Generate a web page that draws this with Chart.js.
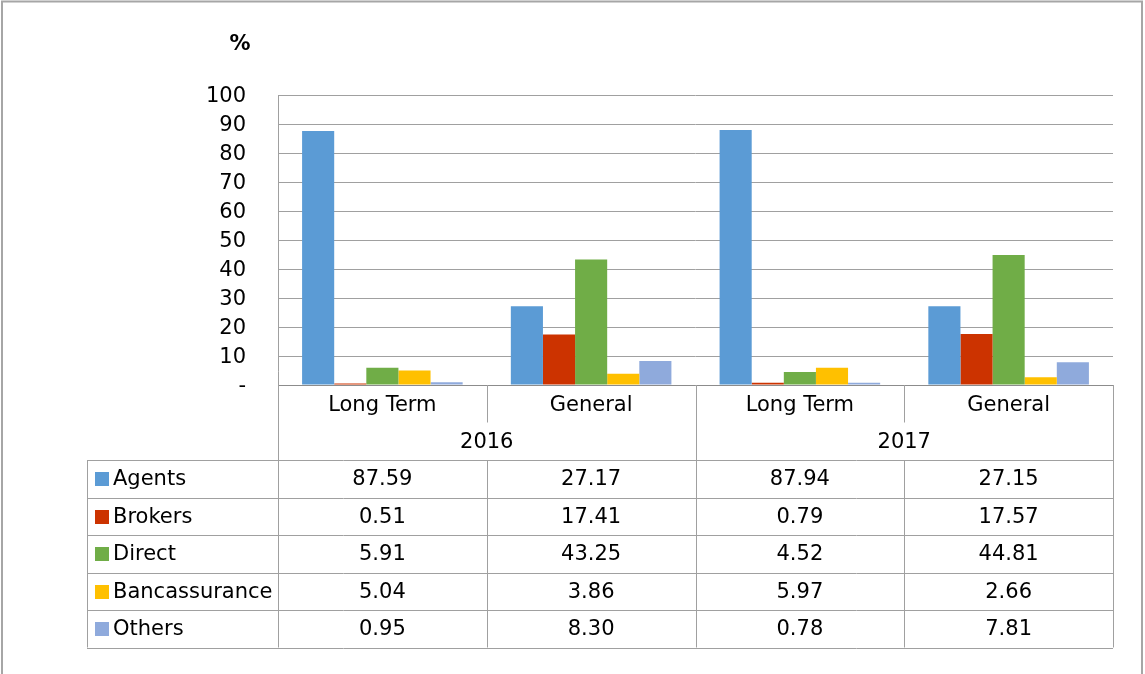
<!DOCTYPE html>
<html>
<head>
<meta charset="utf-8">
<script src="https://cdn.jsdelivr.net/npm/chart.js@4/dist/chart.umd.min.js"></script>
<style>
  html, body { margin: 0; padding: 0; background: #ffffff; }
  #wrap { width: 1145px; height: 674px; position: relative; }
</style>
</head>
<body>
<div id="wrap"><canvas id="c" width="1145" height="674"></canvas></div>
<script>
// ---- data ----
const categories = ['Long Term', 'General', 'Long Term', 'General'];
const years = ['2016', '2017'];
const seriesNames = ['Agents', 'Brokers', 'Direct', 'Bancassurance', 'Others'];
const agents = [87.59, 27.17, 87.94, 27.15];
const brokers = [0.51, 17.41, 0.79, 17.57];
const direct = [5.91, 43.25, 4.52, 44.81];
const bancassurance = [5.04, 3.86, 5.97, 2.66];
const others = [0.95, 8.30, 0.78, 7.81];
const yMin = 0, yMax = 100, yStep = 10;
const unitLabel = '%';

const colors = ['#5b9bd5', '#cc3300', '#70ad47', '#ffc000', '#8faadc'];
const seriesValues = [agents, brokers, direct, bancassurance, others];

const FONT = '"DejaVu Sans", Verdana, sans-serif';
const LINE = '#a0a0a0';

const tablePlugin = {
  id: 'dataTable',
  afterDraw(chart) {
    const ctx = chart.ctx;
    const x = chart.scales.x;
    const area = chart.chartArea;
    const left = area.left, right = area.right, bottom = area.bottom;
    const n = categories.length;
    const colW = (right - left) / n;
    const edges = [];
    for (let i = 0; i <= n; i++) edges.push(left + colW * i);
    const rowH = 37.5;
    const catRowTop = bottom, yearRowTop = bottom + rowH, dataTop = bottom + 2 * rowH;
    const legendLeft = 87;
    const tableBottom = dataTop + rowH * seriesNames.length;

    ctx.save();
    // outer frame
    ctx.strokeStyle = '#a6a6a6';
    ctx.lineWidth = 2;
    ctx.beginPath();
    ctx.moveTo(2, 680); ctx.lineTo(2, 1.5); ctx.lineTo(1142, 1.5); ctx.lineTo(1142, 680);
    ctx.stroke();

    ctx.strokeStyle = LINE;
    ctx.lineWidth = 1;
    const hl = (x1, x2, yy) => { ctx.beginPath(); ctx.moveTo(x1, Math.round(yy) + 0.5); ctx.lineTo(x2, Math.round(yy) + 0.5); ctx.stroke(); };
    const vl = (xx, y1, y2) => { ctx.beginPath(); ctx.moveTo(Math.round(xx) + 0.5, y1); ctx.lineTo(Math.round(xx) + 0.5, y2); ctx.stroke(); };

    // axis line
    ctx.strokeStyle = '#8c8c8c';
    hl(left, right, bottom);
    ctx.strokeStyle = LINE;
    // vertical lines
    vl(left, area.top, tableBottom);
    vl(right, bottom, tableBottom);
    for (let i = 1; i < n; i++) {
      if (i % 2 === 0) {
        vl(edges[i], bottom, tableBottom);
      } else {
        vl(edges[i], bottom, yearRowTop);
        vl(edges[i], dataTop, tableBottom);
      }
    }
    vl(legendLeft, dataTop, tableBottom);
    // horizontal lines
    for (let r = 0; r <= seriesNames.length; r++) {
      hl(legendLeft, right, dataTop + rowH * r);
    }

    // text
    ctx.fillStyle = '#000000';
    ctx.font = '21px ' + FONT;
    ctx.textBaseline = 'middle';
    ctx.textAlign = 'center';
    for (let i = 0; i < n; i++) {
      const cx = x.getPixelForValue(i);
      ctx.fillText(categories[i], cx, catRowTop + rowH / 2 + 2);
    }
    for (let j = 0; j < years.length; j++) {
      const cx = (edges[j * 2] + edges[j * 2 + 2]) / 2;
      ctx.fillText(years[j], cx, yearRowTop + rowH / 2 + 1);
    }
    for (let s = 0; s < seriesNames.length; s++) {
      const cy = dataTop + rowH * s + rowH / 2 + 1;
      for (let i = 0; i < n; i++) {
        ctx.textAlign = 'center';
        ctx.fillText(seriesValues[s][i].toFixed(2), x.getPixelForValue(i), cy);
      }
      ctx.fillStyle = colors[s];
      ctx.fillRect(95, Math.round(cy - 7.5), 14, 14);
      ctx.fillStyle = '#000000';
      ctx.textAlign = 'left';
      ctx.fillText(seriesNames[s], 113, cy);
    }

    // unit label
    ctx.font = 'bold 21px ' + FONT;
    ctx.textAlign = 'center';
    ctx.fillText(unitLabel, 240, 45);
    ctx.restore();
  }
};

new Chart(document.getElementById('c'), {
  type: 'bar',
  data: {
    labels: categories,
    datasets: seriesNames.map((name, k) => ({
      label: name,
      data: seriesValues[k],
      backgroundColor: colors[k],
      borderWidth: 0,
      categoryPercentage: 5 / 6.5,
      barPercentage: 1.0
    }))
  },
  options: {
    responsive: false,
    animation: false,
    devicePixelRatio: 1,
    layout: { padding: { left: 0, top: 95, right: 32, bottom: 289 } },
    plugins: { legend: { display: false }, tooltip: { enabled: false } },
    scales: {
      x: {
        display: false,
        grid: { display: false }
      },
      y: {
        min: yMin, max: yMax,
        afterFit(scale) { scale.width = 278; },
        border: { display: false },
        grid: { color: '#a0a0a0', lineWidth: 1, drawTicks: false },
        ticks: {
          stepSize: yStep,
          padding: 32,
          labelOffset: 2,
          color: '#000000',
          font: { family: FONT, size: 21 },
          callback: (v) => v === 0 ? '-' : v
        }
      }
    }
  },
  plugins: [tablePlugin]
});
</script>
</body>
</html>
